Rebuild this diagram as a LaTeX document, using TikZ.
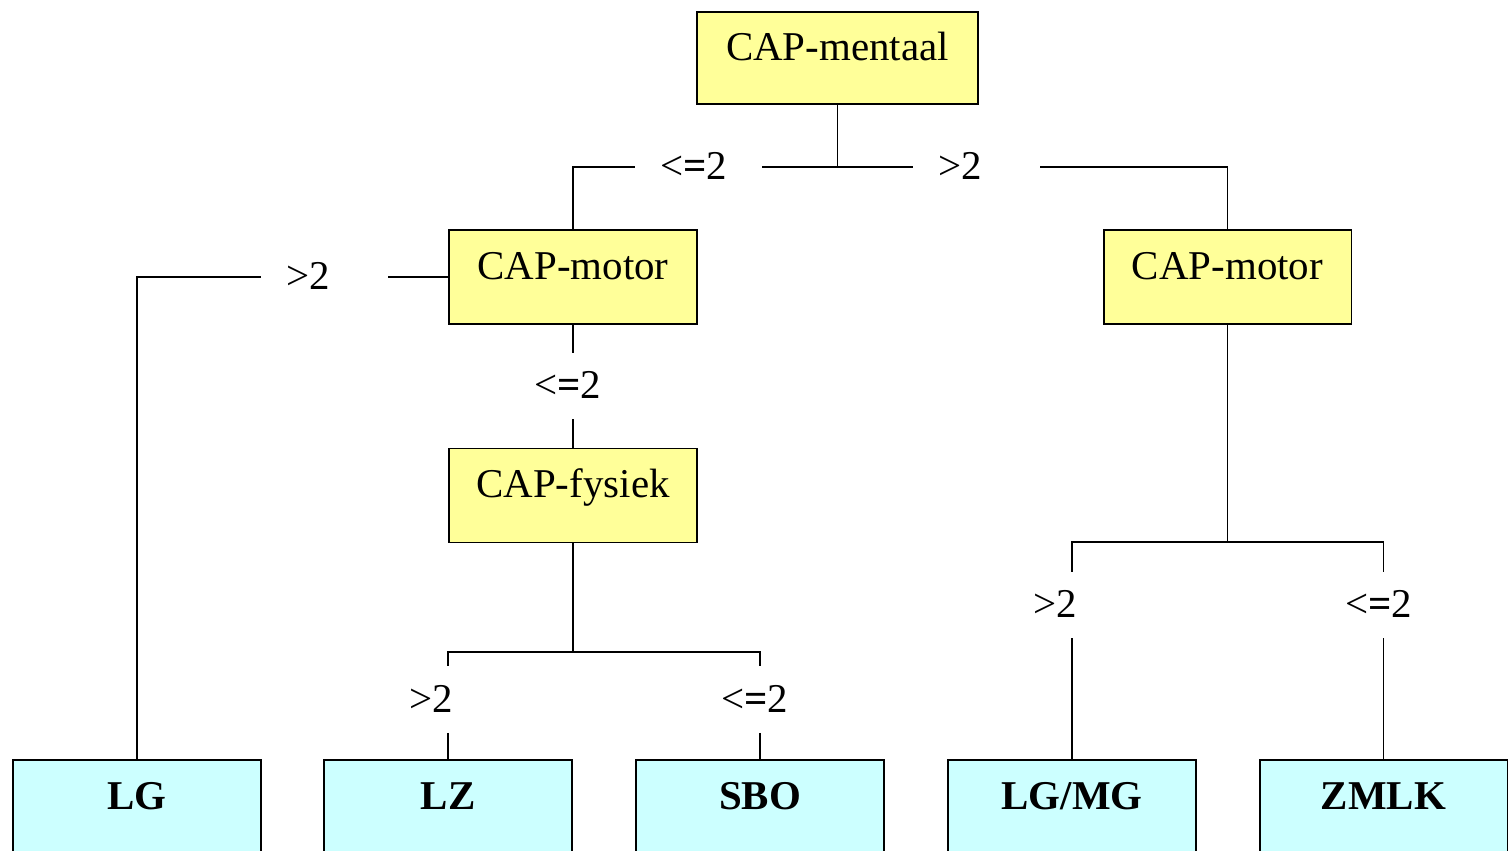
\documentclass[tikz,border=0pt]{standalone}
\usepackage{fontspec}
\setmainfont{Liberation Serif}
\definecolor{capfill}{HTML}{FFFF99}
\definecolor{endfill}{HTML}{CCFFFF}
\tikzset{
  capbox/.style={draw, fill=capfill, line width=1.1pt, minimum width=4.96cm,
    minimum height=1.88cm, inner sep=0pt, text height=0.7em, text depth=0.45em},
  endbox/.style={capbox, fill=endfill, font=\fontsize{23.3}{28}\selectfont\bfseries},
  cond/.style={minimum height=1.32cm, text width=2.54cm, inner sep=0pt,
    text height=1.46em, text depth=0pt,
    align=left, execute at begin node={\hspace*{0.5cm}}},
  conn/.style={line width=1.1pt}
}

\begin{document}
\begin{tikzpicture}[x=0.02cm, y=-0.02cm, font=\fontsize{23.3}{28}\selectfont]
    \clip (0,0) rectangle (1510,851);
    % beslisboom
    \node[capbox, minimum width=5.62cm, minimum height=1.84cm] (mentaal) at (837.5,58) {CAP-mentaal};
    \node[capbox] (motorL) at (573,277) {CAP-motor};
    \node[capbox] (motorR) at (1227.5,277) {CAP-motor};
    \node[capbox] (fysiek) at (573,495.5) {CAP-fysiek};
    \node[endbox] (lg) at (137,807) {LG};
    \node[endbox] (lz) at (448,807) {LZ};
    \node[endbox] (sbo) at (760,807) {SBO};
    \node[endbox] (lgmg) at (1072,807) {LG/MG};
    \node[endbox] (zmlk) at (1383.5,807) {ZMLK};
    % voorwaarden
    \node[cond] (c1) at (698.5,167) {<\textbf{=}2};
    \node[cond] (c2) at (976.5,167) {>2};
    \node[cond] (c3) at (324.5,277) {>2};
    \node[cond] (c4) at (573,386) {<\textbf{=}2};
    \node[cond] (c5) at (448,699.5) {>2};
    \node[cond] (c6) at (760,699.5) {<\textbf{=}2};
    \node[cond] (c7) at (1072,605) {>2};
    \node[cond] (c8) at (1383.5,605) {<\textbf{=}2};
    \coordinate (j0) at (837.5,167);
    \coordinate (j1) at (573,652);
    \coordinate (j2) at (1227.5,542);
    % verbindingen
    \draw[conn] (mentaal) -- (j0) -- (c1);
    \draw[conn] (j0) -- (c2);
    \draw[conn] (c1) -| (motorL);
    \draw[conn] (c2) -| (motorR);
    \draw[conn] (motorL) -- (c3);
    \draw[conn] (c3) -| (lg);
    \draw[conn] (motorL) -- (c4) -- (fysiek);
    \draw[conn] (fysiek) -- (j1);
    \draw[conn] (j1) -| (c5);
    \draw[conn] (j1) -| (c6);
    \draw[conn] (c5) -- (lz);
    \draw[conn] (c6) -- (sbo);
    \draw[conn] (motorR) -- (j2);
    \draw[conn] (j2) -| (c7);
    \draw[conn] (j2) -| (c8);
    \draw[conn] (c7) -- (lgmg);
    \draw[conn] (c8) -- (zmlk);
\end{tikzpicture}
\end{document}
